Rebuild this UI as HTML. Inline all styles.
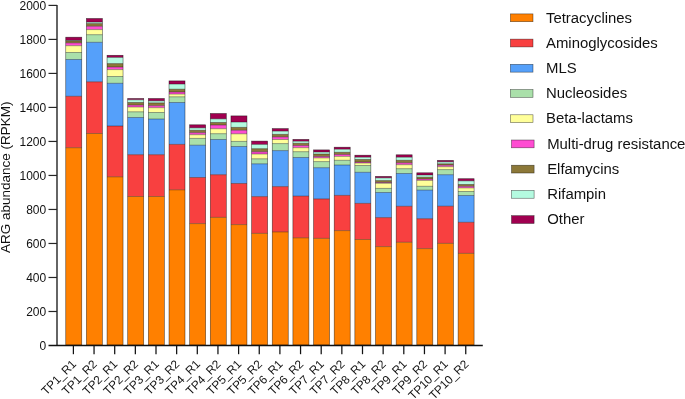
<!DOCTYPE html>
<html><head><meta charset="utf-8"><title>ARG abundance</title>
<style>html,body{margin:0;padding:0;background:#fff;}body{width:685px;height:399px;overflow:hidden;}svg{display:block;will-change:transform;}text{font-family:"Liberation Sans",sans-serif;fill:#111;}</style></head><body>
<svg width="685" height="399" viewBox="0 0 685 399">
<rect width="685" height="399" fill="#fff"/>
<g>
<rect x="65.75" y="37.20" width="16.0" height="3.20" fill="#A00050"/>
<rect x="65.75" y="40.40" width="16.0" height="0.50" fill="#B4FAE0"/>
<rect x="65.75" y="40.90" width="16.0" height="2.00" fill="#8C7838"/>
<rect x="65.75" y="42.90" width="16.0" height="2.80" fill="#FF4CD2"/>
<rect x="65.75" y="45.70" width="16.0" height="6.80" fill="#FFFF99"/>
<rect x="65.75" y="52.50" width="16.0" height="7.00" fill="#AAE0AA"/>
<rect x="65.75" y="59.50" width="16.0" height="36.80" fill="#55A0FA"/>
<rect x="65.75" y="96.30" width="16.0" height="51.40" fill="#F84040"/>
<rect x="65.75" y="147.70" width="16.0" height="197.30" fill="#FF8000"/>
<path d="M65.75 40.40h16.0M65.75 40.90h16.0M65.75 42.90h16.0M65.75 45.70h16.0M65.75 52.50h16.0M65.75 59.50h16.0M65.75 96.30h16.0M65.75 147.70h16.0" stroke="rgba(0,0,0,0.6)" stroke-width="0.6" fill="none"/>
<rect x="65.75" y="37.20" width="16.0" height="307.80" fill="none" stroke="rgba(0,0,0,0.6)" stroke-width="0.65"/>
</g>
<g>
<rect x="86.40" y="18.50" width="16.0" height="3.70" fill="#A00050"/>
<rect x="86.40" y="22.20" width="16.0" height="1.40" fill="#B4FAE0"/>
<rect x="86.40" y="23.60" width="16.0" height="2.70" fill="#8C7838"/>
<rect x="86.40" y="26.30" width="16.0" height="3.30" fill="#FF4CD2"/>
<rect x="86.40" y="29.60" width="16.0" height="5.10" fill="#FFFF99"/>
<rect x="86.40" y="34.70" width="16.0" height="7.60" fill="#AAE0AA"/>
<rect x="86.40" y="42.30" width="16.0" height="39.50" fill="#55A0FA"/>
<rect x="86.40" y="81.80" width="16.0" height="51.70" fill="#F84040"/>
<rect x="86.40" y="133.50" width="16.0" height="211.50" fill="#FF8000"/>
<path d="M86.40 22.20h16.0M86.40 23.60h16.0M86.40 26.30h16.0M86.40 29.60h16.0M86.40 34.70h16.0M86.40 42.30h16.0M86.40 81.80h16.0M86.40 133.50h16.0" stroke="rgba(0,0,0,0.6)" stroke-width="0.6" fill="none"/>
<rect x="86.40" y="18.50" width="16.0" height="326.50" fill="none" stroke="rgba(0,0,0,0.6)" stroke-width="0.65"/>
</g>
<g>
<rect x="107.05" y="55.30" width="16.0" height="2.20" fill="#A00050"/>
<rect x="107.05" y="57.50" width="16.0" height="6.10" fill="#B4FAE0"/>
<rect x="107.05" y="63.60" width="16.0" height="3.40" fill="#8C7838"/>
<rect x="107.05" y="67.00" width="16.0" height="2.60" fill="#FF4CD2"/>
<rect x="107.05" y="69.60" width="16.0" height="6.90" fill="#FFFF99"/>
<rect x="107.05" y="76.50" width="16.0" height="6.80" fill="#AAE0AA"/>
<rect x="107.05" y="83.30" width="16.0" height="42.70" fill="#55A0FA"/>
<rect x="107.05" y="126.00" width="16.0" height="50.80" fill="#F84040"/>
<rect x="107.05" y="176.80" width="16.0" height="168.20" fill="#FF8000"/>
<path d="M107.05 57.50h16.0M107.05 63.60h16.0M107.05 67.00h16.0M107.05 69.60h16.0M107.05 76.50h16.0M107.05 83.30h16.0M107.05 126.00h16.0M107.05 176.80h16.0" stroke="rgba(0,0,0,0.6)" stroke-width="0.6" fill="none"/>
<rect x="107.05" y="55.30" width="16.0" height="289.70" fill="none" stroke="rgba(0,0,0,0.6)" stroke-width="0.65"/>
</g>
<g>
<rect x="127.70" y="98.50" width="16.0" height="1.30" fill="#A00050"/>
<rect x="127.70" y="99.80" width="16.0" height="2.70" fill="#B4FAE0"/>
<rect x="127.70" y="102.50" width="16.0" height="2.60" fill="#8C7838"/>
<rect x="127.70" y="105.10" width="16.0" height="1.90" fill="#FF4CD2"/>
<rect x="127.70" y="107.00" width="16.0" height="4.80" fill="#FFFF99"/>
<rect x="127.70" y="111.80" width="16.0" height="5.70" fill="#AAE0AA"/>
<rect x="127.70" y="117.50" width="16.0" height="37.20" fill="#55A0FA"/>
<rect x="127.70" y="154.70" width="16.0" height="41.80" fill="#F84040"/>
<rect x="127.70" y="196.50" width="16.0" height="148.50" fill="#FF8000"/>
<path d="M127.70 99.80h16.0M127.70 102.50h16.0M127.70 105.10h16.0M127.70 107.00h16.0M127.70 111.80h16.0M127.70 117.50h16.0M127.70 154.70h16.0M127.70 196.50h16.0" stroke="rgba(0,0,0,0.6)" stroke-width="0.6" fill="none"/>
<rect x="127.70" y="98.50" width="16.0" height="246.50" fill="none" stroke="rgba(0,0,0,0.6)" stroke-width="0.65"/>
</g>
<g>
<rect x="148.35" y="98.50" width="16.0" height="2.40" fill="#A00050"/>
<rect x="148.35" y="100.90" width="16.0" height="2.00" fill="#B4FAE0"/>
<rect x="148.35" y="102.90" width="16.0" height="2.80" fill="#8C7838"/>
<rect x="148.35" y="105.70" width="16.0" height="2.00" fill="#FF4CD2"/>
<rect x="148.35" y="107.70" width="16.0" height="4.80" fill="#FFFF99"/>
<rect x="148.35" y="112.50" width="16.0" height="6.50" fill="#AAE0AA"/>
<rect x="148.35" y="119.00" width="16.0" height="35.70" fill="#55A0FA"/>
<rect x="148.35" y="154.70" width="16.0" height="41.80" fill="#F84040"/>
<rect x="148.35" y="196.50" width="16.0" height="148.50" fill="#FF8000"/>
<path d="M148.35 100.90h16.0M148.35 102.90h16.0M148.35 105.70h16.0M148.35 107.70h16.0M148.35 112.50h16.0M148.35 119.00h16.0M148.35 154.70h16.0M148.35 196.50h16.0" stroke="rgba(0,0,0,0.6)" stroke-width="0.6" fill="none"/>
<rect x="148.35" y="98.50" width="16.0" height="246.50" fill="none" stroke="rgba(0,0,0,0.6)" stroke-width="0.65"/>
</g>
<g>
<rect x="169.00" y="80.90" width="16.0" height="3.20" fill="#A00050"/>
<rect x="169.00" y="84.10" width="16.0" height="5.10" fill="#B4FAE0"/>
<rect x="169.00" y="89.20" width="16.0" height="2.80" fill="#8C7838"/>
<rect x="169.00" y="92.00" width="16.0" height="2.10" fill="#FF4CD2"/>
<rect x="169.00" y="94.10" width="16.0" height="2.70" fill="#FFFF99"/>
<rect x="169.00" y="96.80" width="16.0" height="5.70" fill="#AAE0AA"/>
<rect x="169.00" y="102.50" width="16.0" height="41.90" fill="#55A0FA"/>
<rect x="169.00" y="144.40" width="16.0" height="45.40" fill="#F84040"/>
<rect x="169.00" y="189.80" width="16.0" height="155.20" fill="#FF8000"/>
<path d="M169.00 84.10h16.0M169.00 89.20h16.0M169.00 92.00h16.0M169.00 94.10h16.0M169.00 96.80h16.0M169.00 102.50h16.0M169.00 144.40h16.0M169.00 189.80h16.0" stroke="rgba(0,0,0,0.6)" stroke-width="0.6" fill="none"/>
<rect x="169.00" y="80.90" width="16.0" height="264.10" fill="none" stroke="rgba(0,0,0,0.6)" stroke-width="0.65"/>
</g>
<g>
<rect x="189.65" y="124.80" width="16.0" height="3.10" fill="#A00050"/>
<rect x="189.65" y="127.90" width="16.0" height="2.40" fill="#B4FAE0"/>
<rect x="189.65" y="130.30" width="16.0" height="2.40" fill="#8C7838"/>
<rect x="189.65" y="132.70" width="16.0" height="2.00" fill="#FF4CD2"/>
<rect x="189.65" y="134.70" width="16.0" height="3.70" fill="#FFFF99"/>
<rect x="189.65" y="138.40" width="16.0" height="6.80" fill="#AAE0AA"/>
<rect x="189.65" y="145.20" width="16.0" height="32.30" fill="#55A0FA"/>
<rect x="189.65" y="177.50" width="16.0" height="46.10" fill="#F84040"/>
<rect x="189.65" y="223.60" width="16.0" height="121.40" fill="#FF8000"/>
<path d="M189.65 127.90h16.0M189.65 130.30h16.0M189.65 132.70h16.0M189.65 134.70h16.0M189.65 138.40h16.0M189.65 145.20h16.0M189.65 177.50h16.0M189.65 223.60h16.0" stroke="rgba(0,0,0,0.6)" stroke-width="0.6" fill="none"/>
<rect x="189.65" y="124.80" width="16.0" height="220.20" fill="none" stroke="rgba(0,0,0,0.6)" stroke-width="0.65"/>
</g>
<g>
<rect x="210.30" y="113.50" width="16.0" height="5.40" fill="#A00050"/>
<rect x="210.30" y="118.90" width="16.0" height="3.60" fill="#B4FAE0"/>
<rect x="210.30" y="122.50" width="16.0" height="2.50" fill="#8C7838"/>
<rect x="210.30" y="125.00" width="16.0" height="3.70" fill="#FF4CD2"/>
<rect x="210.30" y="128.70" width="16.0" height="5.00" fill="#FFFF99"/>
<rect x="210.30" y="133.70" width="16.0" height="5.80" fill="#AAE0AA"/>
<rect x="210.30" y="139.50" width="16.0" height="35.20" fill="#55A0FA"/>
<rect x="210.30" y="174.70" width="16.0" height="42.70" fill="#F84040"/>
<rect x="210.30" y="217.40" width="16.0" height="127.60" fill="#FF8000"/>
<path d="M210.30 118.90h16.0M210.30 122.50h16.0M210.30 125.00h16.0M210.30 128.70h16.0M210.30 133.70h16.0M210.30 139.50h16.0M210.30 174.70h16.0M210.30 217.40h16.0" stroke="rgba(0,0,0,0.6)" stroke-width="0.6" fill="none"/>
<rect x="210.30" y="113.50" width="16.0" height="231.50" fill="none" stroke="rgba(0,0,0,0.6)" stroke-width="0.65"/>
</g>
<g>
<rect x="230.95" y="115.90" width="16.0" height="6.20" fill="#A00050"/>
<rect x="230.95" y="122.10" width="16.0" height="5.30" fill="#B4FAE0"/>
<rect x="230.95" y="127.40" width="16.0" height="2.90" fill="#8C7838"/>
<rect x="230.95" y="130.30" width="16.0" height="3.50" fill="#FF4CD2"/>
<rect x="230.95" y="133.80" width="16.0" height="7.60" fill="#FFFF99"/>
<rect x="230.95" y="141.40" width="16.0" height="5.10" fill="#AAE0AA"/>
<rect x="230.95" y="146.50" width="16.0" height="37.00" fill="#55A0FA"/>
<rect x="230.95" y="183.50" width="16.0" height="41.10" fill="#F84040"/>
<rect x="230.95" y="224.60" width="16.0" height="120.40" fill="#FF8000"/>
<path d="M230.95 122.10h16.0M230.95 127.40h16.0M230.95 130.30h16.0M230.95 133.80h16.0M230.95 141.40h16.0M230.95 146.50h16.0M230.95 183.50h16.0M230.95 224.60h16.0" stroke="rgba(0,0,0,0.6)" stroke-width="0.6" fill="none"/>
<rect x="230.95" y="115.90" width="16.0" height="229.10" fill="none" stroke="rgba(0,0,0,0.6)" stroke-width="0.65"/>
</g>
<g>
<rect x="251.60" y="141.10" width="16.0" height="3.40" fill="#A00050"/>
<rect x="251.60" y="144.50" width="16.0" height="4.20" fill="#B4FAE0"/>
<rect x="251.60" y="148.70" width="16.0" height="3.10" fill="#8C7838"/>
<rect x="251.60" y="151.80" width="16.0" height="2.20" fill="#FF4CD2"/>
<rect x="251.60" y="154.00" width="16.0" height="4.80" fill="#FFFF99"/>
<rect x="251.60" y="158.80" width="16.0" height="5.00" fill="#AAE0AA"/>
<rect x="251.60" y="163.80" width="16.0" height="32.80" fill="#55A0FA"/>
<rect x="251.60" y="196.60" width="16.0" height="36.80" fill="#F84040"/>
<rect x="251.60" y="233.40" width="16.0" height="111.60" fill="#FF8000"/>
<path d="M251.60 144.50h16.0M251.60 148.70h16.0M251.60 151.80h16.0M251.60 154.00h16.0M251.60 158.80h16.0M251.60 163.80h16.0M251.60 196.60h16.0M251.60 233.40h16.0" stroke="rgba(0,0,0,0.6)" stroke-width="0.6" fill="none"/>
<rect x="251.60" y="141.10" width="16.0" height="203.90" fill="none" stroke="rgba(0,0,0,0.6)" stroke-width="0.65"/>
</g>
<g>
<rect x="272.25" y="128.60" width="16.0" height="2.60" fill="#A00050"/>
<rect x="272.25" y="131.20" width="16.0" height="3.20" fill="#B4FAE0"/>
<rect x="272.25" y="134.40" width="16.0" height="2.50" fill="#8C7838"/>
<rect x="272.25" y="136.90" width="16.0" height="2.60" fill="#FF4CD2"/>
<rect x="272.25" y="139.50" width="16.0" height="4.10" fill="#FFFF99"/>
<rect x="272.25" y="143.60" width="16.0" height="7.00" fill="#AAE0AA"/>
<rect x="272.25" y="150.60" width="16.0" height="36.00" fill="#55A0FA"/>
<rect x="272.25" y="186.60" width="16.0" height="45.30" fill="#F84040"/>
<rect x="272.25" y="231.90" width="16.0" height="113.10" fill="#FF8000"/>
<path d="M272.25 131.20h16.0M272.25 134.40h16.0M272.25 136.90h16.0M272.25 139.50h16.0M272.25 143.60h16.0M272.25 150.60h16.0M272.25 186.60h16.0M272.25 231.90h16.0" stroke="rgba(0,0,0,0.6)" stroke-width="0.6" fill="none"/>
<rect x="272.25" y="128.60" width="16.0" height="216.40" fill="none" stroke="rgba(0,0,0,0.6)" stroke-width="0.65"/>
</g>
<g>
<rect x="292.90" y="139.40" width="16.0" height="1.90" fill="#A00050"/>
<rect x="292.90" y="141.30" width="16.0" height="2.00" fill="#B4FAE0"/>
<rect x="292.90" y="143.30" width="16.0" height="2.20" fill="#8C7838"/>
<rect x="292.90" y="145.50" width="16.0" height="2.20" fill="#FF4CD2"/>
<rect x="292.90" y="147.70" width="16.0" height="4.00" fill="#FFFF99"/>
<rect x="292.90" y="151.70" width="16.0" height="5.80" fill="#AAE0AA"/>
<rect x="292.90" y="157.50" width="16.0" height="38.60" fill="#55A0FA"/>
<rect x="292.90" y="196.10" width="16.0" height="41.70" fill="#F84040"/>
<rect x="292.90" y="237.80" width="16.0" height="107.20" fill="#FF8000"/>
<path d="M292.90 141.30h16.0M292.90 143.30h16.0M292.90 145.50h16.0M292.90 147.70h16.0M292.90 151.70h16.0M292.90 157.50h16.0M292.90 196.10h16.0M292.90 237.80h16.0" stroke="rgba(0,0,0,0.6)" stroke-width="0.6" fill="none"/>
<rect x="292.90" y="139.40" width="16.0" height="205.60" fill="none" stroke="rgba(0,0,0,0.6)" stroke-width="0.65"/>
</g>
<g>
<rect x="313.55" y="149.90" width="16.0" height="2.20" fill="#A00050"/>
<rect x="313.55" y="152.10" width="16.0" height="1.90" fill="#B4FAE0"/>
<rect x="313.55" y="154.00" width="16.0" height="2.50" fill="#8C7838"/>
<rect x="313.55" y="156.50" width="16.0" height="1.40" fill="#FF4CD2"/>
<rect x="313.55" y="157.90" width="16.0" height="3.70" fill="#FFFF99"/>
<rect x="313.55" y="161.60" width="16.0" height="6.10" fill="#AAE0AA"/>
<rect x="313.55" y="167.70" width="16.0" height="31.20" fill="#55A0FA"/>
<rect x="313.55" y="198.90" width="16.0" height="39.50" fill="#F84040"/>
<rect x="313.55" y="238.40" width="16.0" height="106.60" fill="#FF8000"/>
<path d="M313.55 152.10h16.0M313.55 154.00h16.0M313.55 156.50h16.0M313.55 157.90h16.0M313.55 161.60h16.0M313.55 167.70h16.0M313.55 198.90h16.0M313.55 238.40h16.0" stroke="rgba(0,0,0,0.6)" stroke-width="0.6" fill="none"/>
<rect x="313.55" y="149.90" width="16.0" height="195.10" fill="none" stroke="rgba(0,0,0,0.6)" stroke-width="0.65"/>
</g>
<g>
<rect x="334.20" y="147.20" width="16.0" height="2.10" fill="#A00050"/>
<rect x="334.20" y="149.30" width="16.0" height="3.00" fill="#B4FAE0"/>
<rect x="334.20" y="152.30" width="16.0" height="2.20" fill="#8C7838"/>
<rect x="334.20" y="154.50" width="16.0" height="1.90" fill="#FF4CD2"/>
<rect x="334.20" y="156.40" width="16.0" height="3.90" fill="#FFFF99"/>
<rect x="334.20" y="160.30" width="16.0" height="4.70" fill="#AAE0AA"/>
<rect x="334.20" y="165.00" width="16.0" height="30.40" fill="#55A0FA"/>
<rect x="334.20" y="195.40" width="16.0" height="35.20" fill="#F84040"/>
<rect x="334.20" y="230.60" width="16.0" height="114.40" fill="#FF8000"/>
<path d="M334.20 149.30h16.0M334.20 152.30h16.0M334.20 154.50h16.0M334.20 156.40h16.0M334.20 160.30h16.0M334.20 165.00h16.0M334.20 195.40h16.0M334.20 230.60h16.0" stroke="rgba(0,0,0,0.6)" stroke-width="0.6" fill="none"/>
<rect x="334.20" y="147.20" width="16.0" height="197.80" fill="none" stroke="rgba(0,0,0,0.6)" stroke-width="0.65"/>
</g>
<g>
<rect x="354.85" y="155.20" width="16.0" height="2.10" fill="#A00050"/>
<rect x="354.85" y="157.30" width="16.0" height="2.20" fill="#B4FAE0"/>
<rect x="354.85" y="159.50" width="16.0" height="2.60" fill="#8C7838"/>
<rect x="354.85" y="162.10" width="16.0" height="0.90" fill="#FF4CD2"/>
<rect x="354.85" y="163.00" width="16.0" height="2.50" fill="#FFFF99"/>
<rect x="354.85" y="165.50" width="16.0" height="6.80" fill="#AAE0AA"/>
<rect x="354.85" y="172.30" width="16.0" height="31.10" fill="#55A0FA"/>
<rect x="354.85" y="203.40" width="16.0" height="36.10" fill="#F84040"/>
<rect x="354.85" y="239.50" width="16.0" height="105.50" fill="#FF8000"/>
<path d="M354.85 157.30h16.0M354.85 159.50h16.0M354.85 162.10h16.0M354.85 163.00h16.0M354.85 165.50h16.0M354.85 172.30h16.0M354.85 203.40h16.0M354.85 239.50h16.0" stroke="rgba(0,0,0,0.6)" stroke-width="0.6" fill="none"/>
<rect x="354.85" y="155.20" width="16.0" height="189.80" fill="none" stroke="rgba(0,0,0,0.6)" stroke-width="0.65"/>
</g>
<g>
<rect x="375.50" y="176.40" width="16.0" height="1.50" fill="#A00050"/>
<rect x="375.50" y="177.90" width="16.0" height="2.70" fill="#B4FAE0"/>
<rect x="375.50" y="180.60" width="16.0" height="1.90" fill="#8C7838"/>
<rect x="375.50" y="182.50" width="16.0" height="0.80" fill="#FF4CD2"/>
<rect x="375.50" y="183.30" width="16.0" height="5.10" fill="#FFFF99"/>
<rect x="375.50" y="188.40" width="16.0" height="4.10" fill="#AAE0AA"/>
<rect x="375.50" y="192.50" width="16.0" height="25.10" fill="#55A0FA"/>
<rect x="375.50" y="217.60" width="16.0" height="29.00" fill="#F84040"/>
<rect x="375.50" y="246.60" width="16.0" height="98.40" fill="#FF8000"/>
<path d="M375.50 177.90h16.0M375.50 180.60h16.0M375.50 182.50h16.0M375.50 183.30h16.0M375.50 188.40h16.0M375.50 192.50h16.0M375.50 217.60h16.0M375.50 246.60h16.0" stroke="rgba(0,0,0,0.6)" stroke-width="0.6" fill="none"/>
<rect x="375.50" y="176.40" width="16.0" height="168.60" fill="none" stroke="rgba(0,0,0,0.6)" stroke-width="0.65"/>
</g>
<g>
<rect x="396.15" y="154.80" width="16.0" height="2.50" fill="#A00050"/>
<rect x="396.15" y="157.30" width="16.0" height="3.00" fill="#B4FAE0"/>
<rect x="396.15" y="160.30" width="16.0" height="2.50" fill="#8C7838"/>
<rect x="396.15" y="162.80" width="16.0" height="1.90" fill="#FF4CD2"/>
<rect x="396.15" y="164.70" width="16.0" height="4.00" fill="#FFFF99"/>
<rect x="396.15" y="168.70" width="16.0" height="4.80" fill="#AAE0AA"/>
<rect x="396.15" y="173.50" width="16.0" height="32.80" fill="#55A0FA"/>
<rect x="396.15" y="206.30" width="16.0" height="36.00" fill="#F84040"/>
<rect x="396.15" y="242.30" width="16.0" height="102.70" fill="#FF8000"/>
<path d="M396.15 157.30h16.0M396.15 160.30h16.0M396.15 162.80h16.0M396.15 164.70h16.0M396.15 168.70h16.0M396.15 173.50h16.0M396.15 206.30h16.0M396.15 242.30h16.0" stroke="rgba(0,0,0,0.6)" stroke-width="0.6" fill="none"/>
<rect x="396.15" y="154.80" width="16.0" height="190.20" fill="none" stroke="rgba(0,0,0,0.6)" stroke-width="0.65"/>
</g>
<g>
<rect x="416.80" y="172.80" width="16.0" height="2.20" fill="#A00050"/>
<rect x="416.80" y="175.00" width="16.0" height="2.20" fill="#B4FAE0"/>
<rect x="416.80" y="177.20" width="16.0" height="1.80" fill="#8C7838"/>
<rect x="416.80" y="179.00" width="16.0" height="1.40" fill="#FF4CD2"/>
<rect x="416.80" y="180.40" width="16.0" height="5.90" fill="#FFFF99"/>
<rect x="416.80" y="186.30" width="16.0" height="3.80" fill="#AAE0AA"/>
<rect x="416.80" y="190.10" width="16.0" height="28.60" fill="#55A0FA"/>
<rect x="416.80" y="218.70" width="16.0" height="29.90" fill="#F84040"/>
<rect x="416.80" y="248.60" width="16.0" height="96.40" fill="#FF8000"/>
<path d="M416.80 175.00h16.0M416.80 177.20h16.0M416.80 179.00h16.0M416.80 180.40h16.0M416.80 186.30h16.0M416.80 190.10h16.0M416.80 218.70h16.0M416.80 248.60h16.0" stroke="rgba(0,0,0,0.6)" stroke-width="0.6" fill="none"/>
<rect x="416.80" y="172.80" width="16.0" height="172.20" fill="none" stroke="rgba(0,0,0,0.6)" stroke-width="0.65"/>
</g>
<g>
<rect x="437.45" y="160.40" width="16.0" height="1.50" fill="#A00050"/>
<rect x="437.45" y="161.90" width="16.0" height="1.90" fill="#B4FAE0"/>
<rect x="437.45" y="163.80" width="16.0" height="1.40" fill="#8C7838"/>
<rect x="437.45" y="165.20" width="16.0" height="1.50" fill="#FF4CD2"/>
<rect x="437.45" y="166.70" width="16.0" height="2.90" fill="#FFFF99"/>
<rect x="437.45" y="169.60" width="16.0" height="5.10" fill="#AAE0AA"/>
<rect x="437.45" y="174.70" width="16.0" height="31.50" fill="#55A0FA"/>
<rect x="437.45" y="206.20" width="16.0" height="37.20" fill="#F84040"/>
<rect x="437.45" y="243.40" width="16.0" height="101.60" fill="#FF8000"/>
<path d="M437.45 161.90h16.0M437.45 163.80h16.0M437.45 165.20h16.0M437.45 166.70h16.0M437.45 169.60h16.0M437.45 174.70h16.0M437.45 206.20h16.0M437.45 243.40h16.0" stroke="rgba(0,0,0,0.6)" stroke-width="0.6" fill="none"/>
<rect x="437.45" y="160.40" width="16.0" height="184.60" fill="none" stroke="rgba(0,0,0,0.6)" stroke-width="0.65"/>
</g>
<g>
<rect x="458.10" y="178.70" width="16.0" height="2.20" fill="#A00050"/>
<rect x="458.10" y="180.90" width="16.0" height="3.60" fill="#B4FAE0"/>
<rect x="458.10" y="184.50" width="16.0" height="1.90" fill="#8C7838"/>
<rect x="458.10" y="186.40" width="16.0" height="1.50" fill="#FF4CD2"/>
<rect x="458.10" y="187.90" width="16.0" height="3.60" fill="#FFFF99"/>
<rect x="458.10" y="191.50" width="16.0" height="4.00" fill="#AAE0AA"/>
<rect x="458.10" y="195.50" width="16.0" height="26.80" fill="#55A0FA"/>
<rect x="458.10" y="222.30" width="16.0" height="31.10" fill="#F84040"/>
<rect x="458.10" y="253.40" width="16.0" height="91.60" fill="#FF8000"/>
<path d="M458.10 180.90h16.0M458.10 184.50h16.0M458.10 186.40h16.0M458.10 187.90h16.0M458.10 191.50h16.0M458.10 195.50h16.0M458.10 222.30h16.0M458.10 253.40h16.0" stroke="rgba(0,0,0,0.6)" stroke-width="0.6" fill="none"/>
<rect x="458.10" y="178.70" width="16.0" height="166.30" fill="none" stroke="rgba(0,0,0,0.6)" stroke-width="0.65"/>
</g>
<g stroke="#111" stroke-width="1.3" fill="none">
<line x1="57.0" y1="5.0" x2="57.0" y2="345.8"/>
<line x1="48.5" y1="345.5" x2="482.8" y2="345.5"/>
</g>
<g stroke="#262626" stroke-width="1.2" fill="none">
<line x1="48.5" y1="311.49" x2="57.0" y2="311.49"/>
<line x1="48.5" y1="277.48" x2="57.0" y2="277.48"/>
<line x1="48.5" y1="243.47" x2="57.0" y2="243.47"/>
<line x1="48.5" y1="209.46" x2="57.0" y2="209.46"/>
<line x1="48.5" y1="175.45" x2="57.0" y2="175.45"/>
<line x1="48.5" y1="141.44" x2="57.0" y2="141.44"/>
<line x1="48.5" y1="107.43" x2="57.0" y2="107.43"/>
<line x1="48.5" y1="73.42" x2="57.0" y2="73.42"/>
<line x1="48.5" y1="39.41" x2="57.0" y2="39.41"/>
<line x1="48.5" y1="5.40" x2="57.0" y2="5.40"/>
</g>
<g stroke="#111" stroke-width="1.25" fill="none">
<line x1="73.40" y1="345.5" x2="73.40" y2="354.2"/>
<line x1="94.05" y1="345.5" x2="94.05" y2="354.2"/>
<line x1="114.70" y1="345.5" x2="114.70" y2="354.2"/>
<line x1="135.35" y1="345.5" x2="135.35" y2="354.2"/>
<line x1="156.00" y1="345.5" x2="156.00" y2="354.2"/>
<line x1="176.65" y1="345.5" x2="176.65" y2="354.2"/>
<line x1="197.30" y1="345.5" x2="197.30" y2="354.2"/>
<line x1="217.95" y1="345.5" x2="217.95" y2="354.2"/>
<line x1="238.60" y1="345.5" x2="238.60" y2="354.2"/>
<line x1="259.25" y1="345.5" x2="259.25" y2="354.2"/>
<line x1="279.90" y1="345.5" x2="279.90" y2="354.2"/>
<line x1="300.55" y1="345.5" x2="300.55" y2="354.2"/>
<line x1="321.20" y1="345.5" x2="321.20" y2="354.2"/>
<line x1="341.85" y1="345.5" x2="341.85" y2="354.2"/>
<line x1="362.50" y1="345.5" x2="362.50" y2="354.2"/>
<line x1="383.15" y1="345.5" x2="383.15" y2="354.2"/>
<line x1="403.80" y1="345.5" x2="403.80" y2="354.2"/>
<line x1="424.45" y1="345.5" x2="424.45" y2="354.2"/>
<line x1="445.10" y1="345.5" x2="445.10" y2="354.2"/>
<line x1="465.75" y1="345.5" x2="465.75" y2="354.2"/>
</g>
<g font-size="12" text-anchor="end">
<text x="46.2" y="349.80">0</text>
<text x="46.2" y="315.79">200</text>
<text x="46.2" y="281.78">400</text>
<text x="46.2" y="247.77">600</text>
<text x="46.2" y="213.76">800</text>
<text x="46.2" y="179.75">1000</text>
<text x="46.2" y="145.74">1200</text>
<text x="46.2" y="111.73">1400</text>
<text x="46.2" y="77.72">1600</text>
<text x="46.2" y="43.71">1800</text>
<text x="46.2" y="9.70">2000</text>
</g>
<g font-size="11.85" text-anchor="end">
<text transform="translate(76.95,364.9) rotate(-45)">TP1_R1</text>
<text transform="translate(97.60,364.9) rotate(-45)">TP1_R2</text>
<text transform="translate(118.25,364.9) rotate(-45)">TP2_R1</text>
<text transform="translate(138.90,364.9) rotate(-45)">TP2_R2</text>
<text transform="translate(159.55,364.9) rotate(-45)">TP3_R1</text>
<text transform="translate(180.20,364.9) rotate(-45)">TP3_R2</text>
<text transform="translate(200.85,364.9) rotate(-45)">TP4_R1</text>
<text transform="translate(221.50,364.9) rotate(-45)">TP4_R2</text>
<text transform="translate(242.15,364.9) rotate(-45)">TP5_R1</text>
<text transform="translate(262.80,364.9) rotate(-45)">TP5_R2</text>
<text transform="translate(283.45,364.9) rotate(-45)">TP6_R1</text>
<text transform="translate(304.10,364.9) rotate(-45)">TP6_R2</text>
<text transform="translate(324.75,364.9) rotate(-45)">TP7_R1</text>
<text transform="translate(345.40,364.9) rotate(-45)">TP7_R2</text>
<text transform="translate(366.05,364.9) rotate(-45)">TP8_R1</text>
<text transform="translate(386.70,364.9) rotate(-45)">TP8_R2</text>
<text transform="translate(407.35,364.9) rotate(-45)">TP9_R1</text>
<text transform="translate(428.00,364.9) rotate(-45)">TP9_R2</text>
<text transform="translate(448.65,364.9) rotate(-45)">TP10_R1</text>
<text transform="translate(469.30,364.9) rotate(-45)">TP10_R2</text>
</g>
<text font-size="13.5" text-anchor="middle" transform="translate(10.0,177.3) rotate(-90)">ARG abundance (RPKM)</text>
<rect x="510.4" y="13.90" width="22.6" height="7.8" fill="#FF8000" stroke="rgba(0,0,0,0.6)" stroke-width="0.6"/>
<text x="546.0" y="22.60" font-size="14.9">Tetracyclines</text>
<rect x="510.4" y="39.12" width="22.6" height="7.8" fill="#F84040" stroke="rgba(0,0,0,0.6)" stroke-width="0.6"/>
<text x="546.0" y="47.82" font-size="14.9">Aminoglycosides</text>
<rect x="510.4" y="64.34" width="22.6" height="7.8" fill="#55A0FA" stroke="rgba(0,0,0,0.6)" stroke-width="0.6"/>
<text x="546.0" y="73.04" font-size="14.9">MLS</text>
<rect x="510.4" y="89.56" width="22.6" height="7.8" fill="#AAE0AA" stroke="rgba(0,0,0,0.6)" stroke-width="0.6"/>
<text x="546.0" y="98.26" font-size="14.9">Nucleosides</text>
<rect x="510.4" y="114.78" width="22.6" height="7.8" fill="#FFFF99" stroke="rgba(0,0,0,0.6)" stroke-width="0.6"/>
<text x="546.0" y="123.48" font-size="14.9">Beta-lactams</text>
<rect x="511.5" y="140.00" width="22.6" height="7.8" fill="#FF4CD2" stroke="rgba(0,0,0,0.6)" stroke-width="0.6"/>
<text x="547.2" y="148.70" font-size="14.9">Multi-drug resistance</text>
<rect x="511.5" y="165.22" width="22.6" height="7.8" fill="#8C7838" stroke="rgba(0,0,0,0.6)" stroke-width="0.6"/>
<text x="547.2" y="173.92" font-size="14.9">Elfamycins</text>
<rect x="511.5" y="190.44" width="22.6" height="7.8" fill="#B4FAE0" stroke="rgba(0,0,0,0.6)" stroke-width="0.6"/>
<text x="547.2" y="199.14" font-size="14.9">Rifampin</text>
<rect x="511.5" y="215.66" width="22.6" height="7.8" fill="#A00050" stroke="rgba(0,0,0,0.6)" stroke-width="0.6"/>
<text x="547.2" y="224.36" font-size="14.9">Other</text>
</svg></body></html>
